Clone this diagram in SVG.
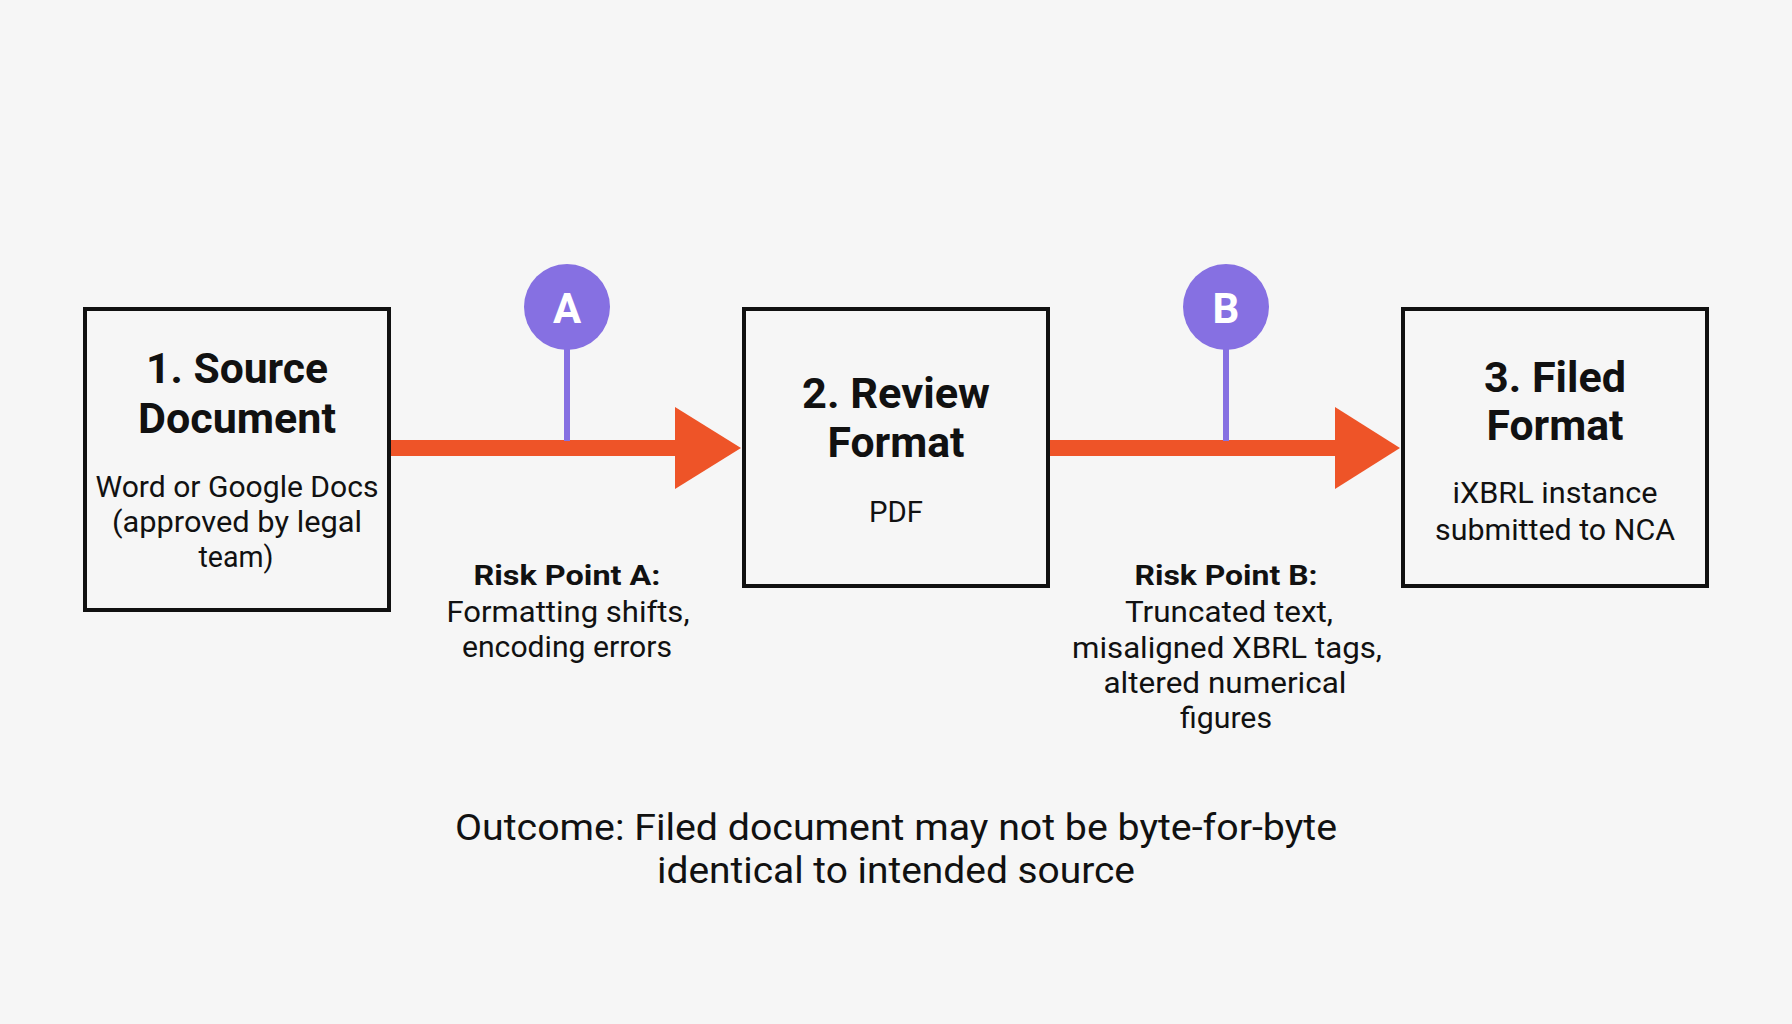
<svg xmlns="http://www.w3.org/2000/svg" width="1792" height="1024" viewBox="0 0 1792 1024">
<defs>
<style>
.bg{fill:#f6f6f6}
.box{fill:#f6f6f6;stroke:#111;stroke-width:4}
.title{font-family:Roboto,"Liberation Sans",sans-serif;font-weight:700;font-size:42px;fill:#111;text-anchor:middle}
.body{font-family:Roboto,"Liberation Sans",sans-serif;font-weight:400;font-size:30px;fill:#111;text-anchor:middle}
.rtitle{font-family:Roboto,"Liberation Sans",sans-serif;font-weight:700;font-size:28px;fill:#111;text-anchor:middle}
.outcome{font-family:Roboto,"Liberation Sans",sans-serif;font-weight:400;font-size:37px;fill:#111;text-anchor:middle}
.shaft{fill:#ee5428}
.stem{stroke:#8670e2;stroke-width:6}
.pin{fill:#8670e2}
.pinlabel{font-family:Roboto,"Liberation Sans",sans-serif;font-weight:700;font-size:42px;fill:#fff;text-anchor:middle}
</style>
</defs>
<rect class="bg" x="0" y="0" width="1792" height="1024"/>

<g id="connectors">
  <rect class="shaft" x="391" y="440" width="286" height="16"/>
  <polygon class="shaft" points="675,407 741,448 675,489"/>
  <rect class="shaft" x="1050" y="440" width="287" height="16"/>
  <polygon class="shaft" points="1335,407 1400,448 1335,489"/>
</g>

<g id="node-source">
  <rect class="box" x="85" y="309" width="304" height="301"/>
  <text class="title" x="237" y="383" textLength="182" lengthAdjust="spacingAndGlyphs">1. Source</text>
  <text class="title" x="237" y="433" textLength="198" lengthAdjust="spacingAndGlyphs">Document</text>
  <text class="body" x="237" y="497" textLength="283" lengthAdjust="spacingAndGlyphs">Word or Google Docs</text>
  <text class="body" x="237" y="532" textLength="250" lengthAdjust="spacingAndGlyphs">(approved by legal</text>
  <text class="body" x="236" y="567" textLength="75" lengthAdjust="spacingAndGlyphs">team)</text>
</g>

<g id="node-review">
  <rect class="box" x="744" y="309" width="304" height="277"/>
  <text class="title" x="896" y="408" textLength="188" lengthAdjust="spacingAndGlyphs">2. Review</text>
  <text class="title" x="896" y="457" textLength="137" lengthAdjust="spacingAndGlyphs">Format</text>
  <text class="body" x="896" y="522" textLength="54" lengthAdjust="spacingAndGlyphs">PDF</text>
</g>

<g id="node-filed">
  <rect class="box" x="1403" y="309" width="304" height="277"/>
  <text class="title" x="1555" y="392" textLength="142" lengthAdjust="spacingAndGlyphs">3. Filed</text>
  <text class="title" x="1555" y="440" textLength="137" lengthAdjust="spacingAndGlyphs">Format</text>
  <text class="body" x="1555" y="503" textLength="205" lengthAdjust="spacingAndGlyphs">iXBRL instance</text>
  <text class="body" x="1555" y="540" textLength="240" lengthAdjust="spacingAndGlyphs">submitted to NCA</text>
</g>

<g id="risk-a">
  <line class="stem" x1="567" y1="345" x2="567" y2="441"/>
  <circle class="pin" cx="567" cy="307" r="43"/>
  <text class="pinlabel" x="567" y="323">A</text>
  <text class="rtitle" x="567" y="585" textLength="187" lengthAdjust="spacingAndGlyphs">Risk Point A:</text>
  <text class="body" x="568" y="622" textLength="243" lengthAdjust="spacingAndGlyphs">Formatting shifts,</text>
  <text class="body" x="567" y="657" textLength="210" lengthAdjust="spacingAndGlyphs">encoding errors</text>
</g>

<g id="risk-b">
  <line class="stem" x1="1226" y1="345" x2="1226" y2="441"/>
  <circle class="pin" cx="1226" cy="307" r="43"/>
  <text class="pinlabel" x="1226" y="323">B</text>
  <text class="rtitle" x="1226" y="585" textLength="183" lengthAdjust="spacingAndGlyphs">Risk Point B:</text>
  <text class="body" x="1229" y="622" textLength="208" lengthAdjust="spacingAndGlyphs">Truncated text,</text>
  <text class="body" x="1227" y="658" textLength="310" lengthAdjust="spacingAndGlyphs">misaligned XBRL tags,</text>
  <text class="body" x="1225" y="693" textLength="243" lengthAdjust="spacingAndGlyphs">altered numerical</text>
  <text class="body" x="1226" y="728" textLength="92" lengthAdjust="spacingAndGlyphs">figures</text>
</g>

<g id="outcome">
  <text class="outcome" x="896" y="840" textLength="882" lengthAdjust="spacingAndGlyphs">Outcome: Filed document may not be byte-for-byte</text>
  <text class="outcome" x="896" y="883" textLength="478" lengthAdjust="spacingAndGlyphs">identical to intended source</text>
</g>
</svg>
